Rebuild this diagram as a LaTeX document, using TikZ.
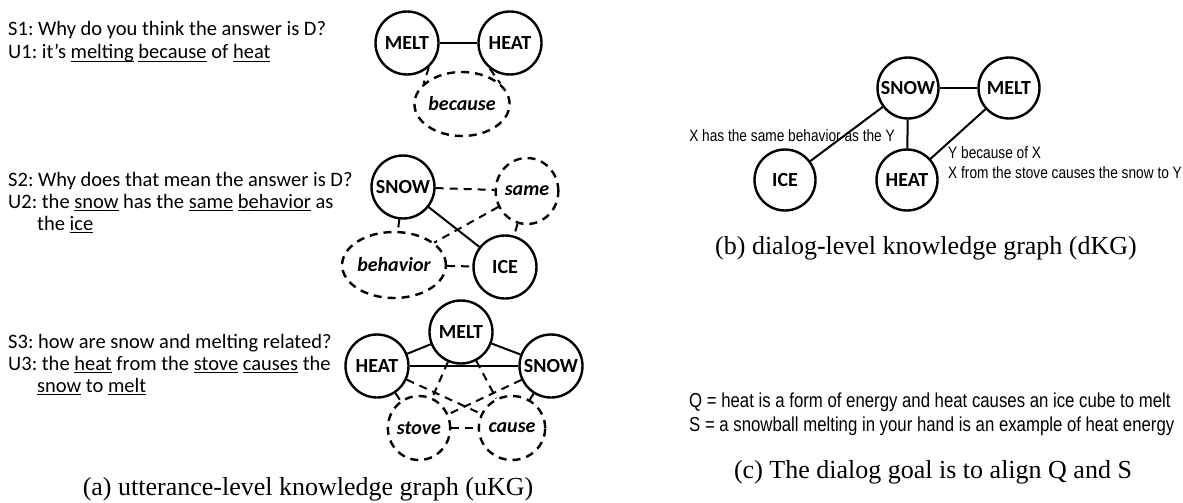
\documentclass[tikz,border=0pt]{standalone}
\usepackage{fontspec}
\setmainfont{Liberation Serif}
\newfontfamily\calfont{Carlito}
\newfontfamily\narrowfont[FakeStretch=0.83]{Liberation Sans}
\usetikzlibrary{shapes.geometric}
\newcommand\myul[1]{\setbox0\hbox{#1}\rlap{\rule[-3.2pt]{\wd0}{1.2pt}}\box0\relax}
\frenchspacing
\begin{document}
\begin{tikzpicture}[x=1pt,y=-1pt,
  ent/.style={circle, draw, line width=2.4pt, minimum size=63pt, inner sep=0pt, font=\calfont\bfseries\fontsize{20}{24}\selectfont},
  bent/.style={ent, minimum size=61pt},
  dent/.style={ellipse, draw, dash pattern=on 8pt off 6pt, line width=2.4pt, inner sep=0pt, font=\calfont\bfseries\itshape\fontsize{20}{24}\selectfont},
  sol/.style={line width=2pt},
  dsh/.style={line width=2pt, dash pattern=on 8pt off 6pt},
  utt/.style={anchor=base west, inner sep=0pt, font=\calfont\fontsize{20.5}{24}\selectfont},
  capt/.style={anchor=base, inner sep=0pt, font=\fontsize{26}{30}\selectfont},
  lab/.style={anchor=base west, inner sep=0pt, font=\narrowfont\fontsize{16.5}{20}\selectfont},
  goal/.style={anchor=base west, inner sep=0pt, font=\narrowfont\fontsize{20.2}{24}\selectfont}
]
\path[use as bounding box, fill=white] (0,0) rectangle (1183,503);

% ---------- panel (a) text ----------
\node[utt] (t1) at (8,36) {S1: Why do you think the answer is D?};
\node[utt] (t2) at (8,59) {U1: it’s \myul{melting} \myul{because} of \myul{heat}};
\node[utt] (t3) at (8,186) {S2: Why does that mean the answer is D?};
\node[utt] (t4) at (8,208) {U2: the \myul{snow} has the \myul{same} \myul{behavior} as};
\node[utt] (t5) at (37,230) {the \myul{ice}};
\node[utt] (t6) at (8,348) {S3: how are snow and melting related?};
\node[utt] (t7) at (8,370) {U3: the \myul{heat} from the \myul{stove} \myul{causes} the};
\node[utt] (t8) at (37,392) {\myul{snow} to \myul{melt}};

% ---------- graph 1 ----------
\node[ent] (m1) at (407,43) {MELT};
\node[ent] (h1) at (510,43) {HEAT};
\node[dent, minimum width=86pt, minimum height=64pt] (b1) at (462,104) {because};
\draw[sol] (m1) -- (h1);
\draw[dsh] (m1.-48) -- (b1.152);
\draw[dsh] (h1.-128) -- (b1.28);

% ---------- graph 2 ----------
\node[ent] (s2) at (403,187) {SNOW};
\node[dent, minimum width=62pt, minimum height=66pt] (sa2) at (527,191) {same};
\node[ent] (i2) at (505,267) {ICE};
\node[dent, minimum width=92pt, minimum height=66pt] (be2) at (394,265) {behavior};
\draw[sol] (s2) -- (i2);
\draw[dsh] (s2) -- (sa2);
\draw[dsh] (s2) -- (be2);
\draw[dsh] (sa2) -- (be2);
\draw[dsh] (sa2) -- (i2);
\draw[dsh] (be2) -- (i2);

% ---------- graph 3 ----------
\node[ent] (m3) at (461,332) {MELT};
\node[ent] (h3) at (377,366) {HEAT};
\node[ent] (s3) at (551,366) {SNOW};
\node[dent, minimum width=62pt, minimum height=64pt] (st3) at (419,428) {stove};
\node[dent, minimum width=62pt, minimum height=64pt] (c3) at (512,428) {cause};
\draw[sol] (h3) -- (m3);
\draw[sol] (m3) -- (s3);
\draw[sol] (h3) -- (s3);
\draw[dsh] (h3) -- (st3);
\draw[dsh] (h3) -- (c3);
\draw[dsh] (m3) -- (st3);
\draw[dsh] (m3) -- (c3);
\draw[dsh] (s3) -- (st3);
\draw[dsh] (s3) -- (c3);
\draw[dsh] (st3) -- (c3);

\node[capt] (capa) at (308,495) {(a) utterance-level knowledge graph (uKG)};

% ---------- panel (b) ----------
\node[bent] (bs) at (908,88) {SNOW};
\node[bent] (bm) at (1009,88) {MELT};
\node[bent] (bi) at (785,180) {ICE};
\node[bent] (bh) at (907,180) {HEAT};
\draw[sol] (bs) -- (bm);
\draw[sol] (bs) -- (bi);
\draw[sol] (bs) -- (bh);
\draw[sol] (bm) -- (bh);
\node[lab, anchor=base east] (l1) at (895,141) {X has the same behavior as the Y};
\node[lab] (l2) at (948,158) {Y because of X};
\node[lab] (l3) at (948,178) {X from the stove causes the snow to Y};
\node[capt] (capb) at (926,254) {(b) dialog-level knowledge graph (dKG)};

% ---------- panel (c) ----------
\node[goal] (q) at (689,407) {Q = heat is a form of energy and heat causes an ice cube to melt};
\node[goal] (s) at (689,431) {S = a snowball melting in your hand is an example of heat energy};
\node[capt] (capc) at (933,478) {(c) The dialog goal is to align Q and S};
\end{tikzpicture}
\end{document}
